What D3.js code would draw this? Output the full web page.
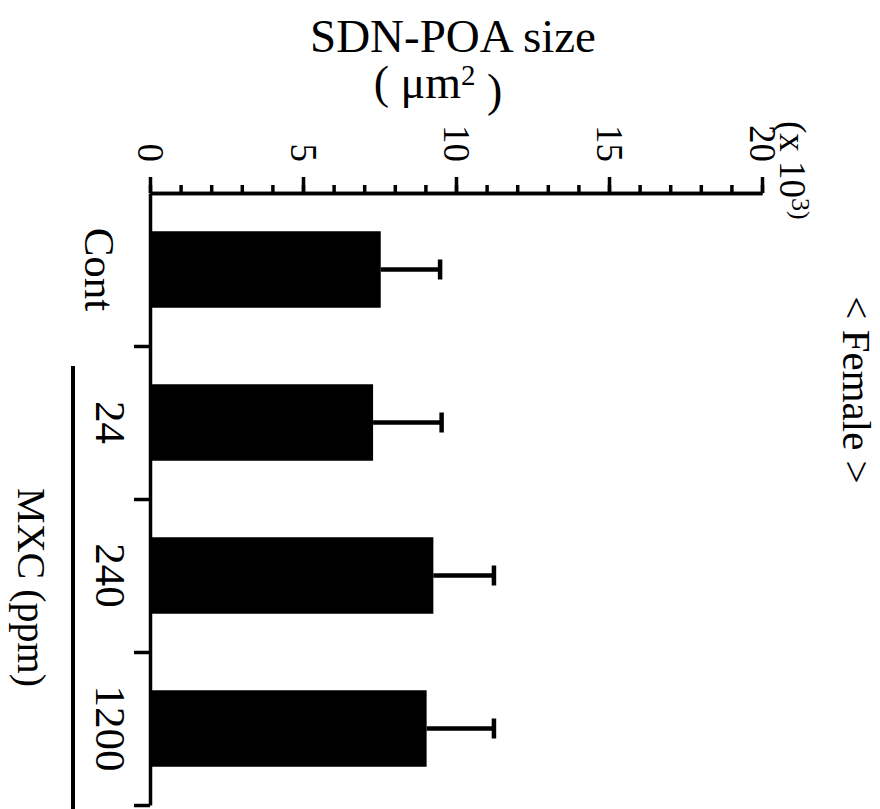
<!DOCTYPE html>
<html>
<head>
<meta charset="utf-8">
<script src="https://cdn.jsdelivr.net/npm/d3@7"></script>
<style>
  body { margin: 0; background: #fff; }
  svg text { font-family: "Liberation Serif", Tinos, "Times New Roman", Times, "DejaVu Serif", serif !important; fill: #000; }
</style>
</head>
<body>
<div id="chart"></div>
<script>
// data (x 10^3 um^2)
const categories = ["Cont", "24", "240", "1200"];
const means = [7.54, 7.29, 9.26, 9.04];
const sems = [1.94, 2.24, 1.98, 2.20];
const majorTicks = [0, 5, 10, 15, 20];
const minorTicks = d3.range(0, 21);

const width = 880, height = 809;
const axisY = 193, axisX = 150;
const serif = "'Liberation Serif', Tinos, 'Times New Roman', Times, 'DejaVu Serif', serif";

const svg = d3.select("#chart")
	.append("svg")
	.attr("width", width)
	.attr("height", height)
	.attr("font-family", serif);

svg.append("rect").attr("width", width).attr("height", height).attr("fill", "#fff");

const x = d3.scaleLinear()
	.domain([0, 20])
	.range([axisX, 762]);

const y = d3.scaleBand()
	.domain(categories)
	.range([axisY, 805])
	.paddingInner(0.5)
	.paddingOuter(0.25);

// boundaries between groups, for the ticks on the category axis
const yBound = d3.scaleLinear()
	.domain([0, categories.length])
	.range([axisY, 805]);

// value axis on top, minor + major ticks
svg.append("g")
	.attr("class", "axis")
	.attr("transform", `translate(0, ${axisY})`)
	.call(d3.axisTop(x).tickValues(minorTicks).tickSize(8).tickSizeOuter(0).tickFormat(""));

const major = svg.append("g")
	.attr("class", "axis")
	.attr("transform", `translate(0, ${axisY})`)
	.call(d3.axisTop(x).tickValues(majorTicks).tickSize(16).tickSizeOuter(0));

major.attr("font-family", serif).attr("font-size", 37);
major.selectAll("text")
	.attr("x", 0)
	.attr("y", 0)
	.attr("dy", "0.35em")
	.attr("transform", "translate(0,-31) rotate(90)")
	.style("text-anchor", "end");

// category axis on the left
svg.append("g")
	.attr("class", "axis")
	.attr("transform", `translate(${axisX}, 0)`)
	.call(d3.axisLeft(yBound).tickValues(d3.range(1, categories.length + 1)).tickSize(16).tickSizeOuter(0).tickFormat(""));

svg.selectAll(".axis path, .axis line")
	.attr("stroke", "#000")
	.attr("stroke-width", 3.5);

const rows = categories.map((c, i) => ({ cat: c, mean: means[i], sem: sems[i] }));

// bars
svg.append("g")
	.selectAll("rect")
	.data(rows)
	.enter()
	.append("rect")
	.attr("x", x(0))
	.attr("y", d => y(d.cat))
	.attr("width", d => x(d.mean) - x(0))
	.attr("height", y.bandwidth())
	.attr("fill", "#000");

// error bars (one sided)
const err = svg.append("g")
	.attr("stroke", "#000")
	.attr("stroke-width", 4.5);

err.selectAll(".stem")
	.data(rows)
	.enter()
	.append("line")
	.attr("x1", d => x(d.mean))
	.attr("x2", d => x(d.mean + d.sem))
	.attr("y1", d => y(d.cat) + y.bandwidth() / 2)
	.attr("y2", d => y(d.cat) + y.bandwidth() / 2);

err.selectAll(".cap")
	.data(rows)
	.enter()
	.append("line")
	.attr("x1", d => x(d.mean + d.sem))
	.attr("x2", d => x(d.mean + d.sem))
	.attr("y1", d => y(d.cat) + y.bandwidth() / 2 - 10)
	.attr("y2", d => y(d.cat) + y.bandwidth() / 2 + 10);

// category labels, rotated like the rest of the figure
svg.append("g")
	.selectAll("text")
	.data(categories)
	.enter()
	.append("text")
	.attr("transform", d => `translate(${d === "Cont" ? 85 : 96}, ${y(d) + y.bandwidth() / 2}) rotate(90)`)
	.attr("text-anchor", "middle")
	.attr("font-size", 43)
	.text(d => d);

// bracket for the MXC doses
svg.append("line")
	.attr("x1", 73).attr("x2", 73)
	.attr("y1", yBound(1) + 20)
	.attr("y2", height)
	.attr("stroke", "#000")
	.attr("stroke-width", 4);

svg.append("text")
	.attr("transform", `translate(18, ${(yBound(1) + 20 + height) / 2}) rotate(90)`)
	.attr("text-anchor", "middle")
	.attr("font-size", 40)
	.text("MXC (ppm)");

// axis title
svg.append("text")
	.attr("x", 453)
	.attr("y", 52)
	.attr("text-anchor", "middle")
	.attr("font-size", 47)
	.text("SDN-POA size");

const unit = svg.append("text")
	.attr("x", 438)
	.attr("y", 98)
	.attr("text-anchor", "middle")
	.attr("font-size", 46);
unit.append("tspan").text("(\u00a0\u03bcm");
unit.append("tspan").attr("dy", "-0.45em").attr("font-size", 29).text("2");
unit.append("tspan").attr("dy", "0.45em").text("\u00a0)");

const mult = svg.append("text")
	.attr("transform", "translate(780, 121) rotate(90)")
	.attr("text-anchor", "start")
	.attr("font-size", 37);
mult.append("tspan").text("(x 10");
mult.append("tspan").attr("dy", "-0.45em").attr("font-size", 26).text("3)");

svg.append("text")
	.attr("transform", "translate(843, 390) rotate(90)")
	.attr("text-anchor", "middle")
	.attr("font-size", 41)
	.text("< Female >");
</script>
</body>
</html>
